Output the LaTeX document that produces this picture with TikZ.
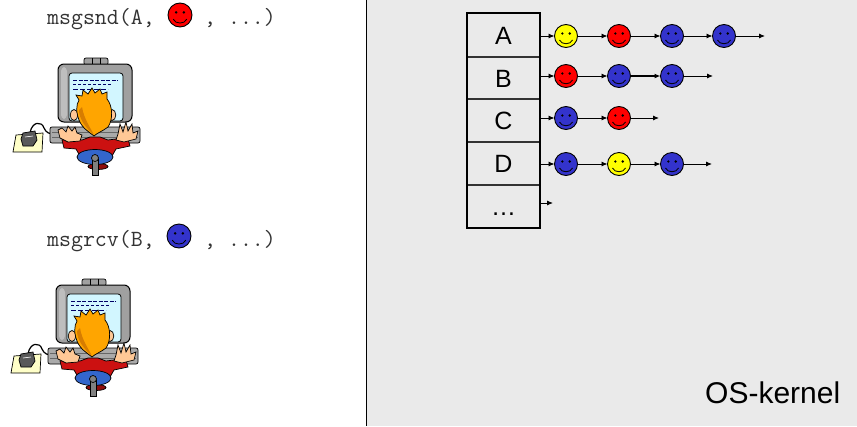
\documentclass[tikz,border=0pt]{standalone}
\usepackage{fontspec}
\setmainfont{Liberation Sans}
\usetikzlibrary{arrows.meta}
\definecolor{panel}{RGB}{234,234,234}
\definecolor{smy}{RGB}{255,255,0}
\definecolor{smr}{RGB}{255,0,0}
\definecolor{smb}{RGB}{51,51,204}
\definecolor{pad}{RGB}{255,255,200}
\definecolor{mon}{RGB}{160,160,160}
\definecolor{monlight}{RGB}{190,190,190}
\definecolor{scr}{RGB}{210,246,255}
\definecolor{skin}{RGB}{255,200,150}
\definecolor{hair}{RGB}{255,165,0}
\definecolor{hairdark}{RGB}{215,125,0}
\definecolor{shirt}{RGB}{204,17,17}
\definecolor{pants}{RGB}{51,102,204}
\definecolor{keyb}{RGB}{170,170,170}
\newcommand{\myface}[2][1]{%
  \fill ([shift={(-3.7*#1,-2.5*#1)}]#2.center) circle (1.3*#1);
  \fill ([shift={(3.7*#1,-2.5*#1)}]#2.center) circle (1.3*#1);
  \draw[line width=0.8pt] ([shift={(-6.5*#1,4*#1)}]#2.center)
    .. controls +(2*#1,5*#1) and +(-2*#1,5*#1) .. ([shift={(6.5*#1,4*#1)}]#2.center);
}
\tikzset{
  arr/.style={-{Latex[length=6pt,width=5pt]}, line width=0.9pt},
  smile/.style={circle, draw=black, line width=0.9pt, fill=#1, minimum size=23pt,
    inner sep=0pt, outer sep=0pt},
  cell/.style={draw=black!80, line width=1.2pt, minimum width=73pt, text height=18pt,
    text depth=0pt, inner sep=0pt, outer sep=0pt, font=\fontsize{25}{25}\selectfont},
  mono/.style={font=\ttfamily\fontsize{23.2}{23.2}\selectfont, text=black!80, inner sep=0pt,
    anchor=base west},
  ol/.style={draw=black, line width=0.7pt},
  pics/coder/.style={code={
    % cord
    \draw[line width=1.2pt] (30,133) .. controls (32,121) and (42,121) .. (44,128)
      .. controls (46,133) and (50,134) .. (54,134);
    % mouse pad
    \draw[ol, fill=pad] (16,135) -- (43,133) -- (42,152) -- (13,152) -- cycle;
    % mouse
    \draw[ol, fill=black!65] (23,133) -- (35,131) -- (37,140) -- (33,146) -- (23,146) -- (21,139) -- cycle;
    \draw[white, line width=0.6pt] (25,137) -- (33,136);
    % monitor
    \draw[ol, fill=mon, rounded corners=2pt] (84,58) rectangle (108,65);
    \draw[black, line width=0.5pt] (92,58) -- (92,65) (100,58) -- (100,65);
    \draw[line width=1pt, fill=mon, rounded corners=6pt] (58,64) rectangle (132,122);
    \fill[monlight, rounded corners=4pt] (61,67) rectangle (67,119);
    \draw[line width=0.8pt, fill=scr, rounded corners=3pt] (69,73) rectangle (123,121);
    \draw[black!60!blue, line width=0.9pt, dash pattern=on 4pt off 1.5pt] (73,80) -- (118,80);
    \draw[black!60!blue, line width=0.9pt, dash pattern=on 3pt off 2pt] (73,84.5) -- (112,84.5);
    \draw[black!60!blue, line width=0.9pt, dash pattern=on 5pt off 2pt] (73,89) -- (108,89);
    % ears
    \draw[ol, fill=skin] (74,115) ellipse (3.8 and 5.5);
    \draw[ol, fill=skin] (112,115) ellipse (3.8 and 5.5);
    % keyboard
    \draw[ol, fill=keyb, rounded corners=2pt] (50,127) rectangle (140,143);
    \draw[black!60, line width=0.5pt] (52,132) -- (138,132) (52,137) -- (138,137);
    % shirt
    \draw[ol, fill=shirt] (62,140) -- (70,138.5) -- (82,140) -- (90,137) -- (100,137)
      -- (108,140) -- (120,138.5) -- (128,139) -- (130,146) -- (116,149) -- (112,156)
      -- (80,156) -- (76,149) -- (64,148) -- cycle;
    % hair
    \draw[ol, fill=hair] (79,100) -- (76,95) -- (82,96) -- (83,90) -- (88,94) -- (92,88)
      -- (95,93) -- (100,89) -- (102,94) -- (107,92) -- (107,99)
      .. controls (113,106) and (113,120) .. (108,127)
      .. controls (103,131) and (97,133) .. (94,136)
      .. controls (89,132) and (82,128) .. (79,120)
      .. controls (76,112) and (76,105) .. (79,100) -- cycle;
    \fill[hairdark] (79,110) .. controls (79,119) and (86,128) .. (94,135)
      .. controls (90,127) and (84,119) .. (82,107) -- cycle;
    % hands
    \draw[ol, fill=skin] (58,130) -- (62,128) -- (66,132) -- (68,126) -- (72,131)
      -- (75,127) -- (77,133) -- (82,135) -- (80,141) -- (68,142) -- (60,138) -- cycle;
    \draw[ol, fill=skin] (118,134) -- (120,124) -- (123,132) -- (126,122) -- (128,131)
      -- (132,124) -- (133,133) -- (138,131) -- (136,139) -- (124,142) -- (116,140) -- cycle;
    % chair
    \draw[ol, fill=shirt!70!black] (98,166.5) ellipse (10 and 3);
    \draw[ol, fill=pants] (95,157) ellipse (18 and 7.5);
    \draw[ol, fill=black!50] (92,159) rectangle (98,175);
    \draw[ol, fill=black!50] (95,158) circle (3.5);
  }}
}
\begin{document}
\begin{tikzpicture}[x=1pt, y=-1pt]
\useasboundingbox (0,0) rectangle (857,426);
\fill[white] (0,0) rectangle (367,426);
\fill[panel] (367,0) rectangle (857,426);
\draw[line width=1.5pt] (366.5,0) -- (366.5,426);

% left side
\node[mono] (t1a) at (47,24) {msgsnd(A,};
\node[smile=smr, minimum size=24pt] (t1s) at (180,15) {};
\node[mono] (t1b) at (204,24) {, ...)};
\pic (fig1) at (0,0) {coder};

\node[mono] (t2a) at (47,246) {msgrcv(B,};
\node[smile=smb, minimum size=24pt] (t2s) at (179,236) {};
\node[mono] (t2b) at (204,246) {, ...)};
\pic (fig2) at (-2,221) {coder};

% table
\node[cell, minimum height=44pt] (rA) at (503.5,35) {A};
\node[cell, minimum height=42pt] (rB) at (503.5,78) {B};
\node[cell, minimum height=43pt] (rC) at (503.5,120.5) {C};
\node[cell, minimum height=43pt] (rD) at (503.5,163.5) {D};
\node[cell, minimum height=43pt] (rE) at (503.5,206.5) {\ldots};
\draw[line width=2.6pt] (rA.north west) rectangle (rE.south east);

% smileys
\node[smile=smy] (a1) at (566,36) {};
\node[smile=smr] (a2) at (619,36) {};
\node[smile=smb] (a3) at (672,36) {};
\node[smile=smb] (a4) at (724,36) {};
\coordinate (aE) at (765,36);

\node[smile=smr] (b1) at (566,76) {};
\node[smile=smb] (b2) at (619,76) {};
\node[smile=smb] (b3) at (672,76) {};
\coordinate (bE) at (713,76);

\node[smile=smb] (c1) at (566,118) {};
\node[smile=smr] (c2) at (619,118) {};
\coordinate (cE) at (659,118);

\node[smile=smb] (d1) at (566,164) {};
\node[smile=smy] (d2) at (619,164) {};
\node[smile=smb] (d3) at (672,164) {};
\coordinate (dE) at (712,164);

\coordinate (eE) at (553,203);

\foreach \n in {a1,a2,a3,a4,b1,b2,b3,c1,c2,d1,d2,d3} { \myface{\n} }
\foreach \n in {t1s,t2s} { \myface[1.04]{\n} }

% arrows
\draw[arr] (rA.east |- a1) -- (a1);
\draw[arr] (a1) -- (a2);
\draw[arr] (a2) -- (a3);
\draw[arr] (a3) -- (a4);
\draw[arr] (a4) -- (aE);

\draw[arr] (rB.east |- b1) -- (b1);
\draw[arr] (b1) -- (b2);
\draw[arr, line width=1.4pt] (b2) -- (b3);
\draw[arr] (b3) -- (bE);

\draw[arr] (rC.east |- c1) -- (c1);
\draw[arr] (c1) -- (c2);
\draw[arr] (c2) -- (cE);

\draw[arr] (rD.east |- d1) -- (d1);
\draw[arr] (d1) -- (d2);
\draw[arr] (d2) -- (d3);
\draw[arr] (d3) -- (dE);

\draw[arr] (rE.east |- eE) -- (eE);

% kernel label
\node[font=\fontsize{30}{30}\selectfont, inner sep=0pt, anchor=base west] (os) at (705,403) {OS-kernel};
\end{tikzpicture}
\end{document}
